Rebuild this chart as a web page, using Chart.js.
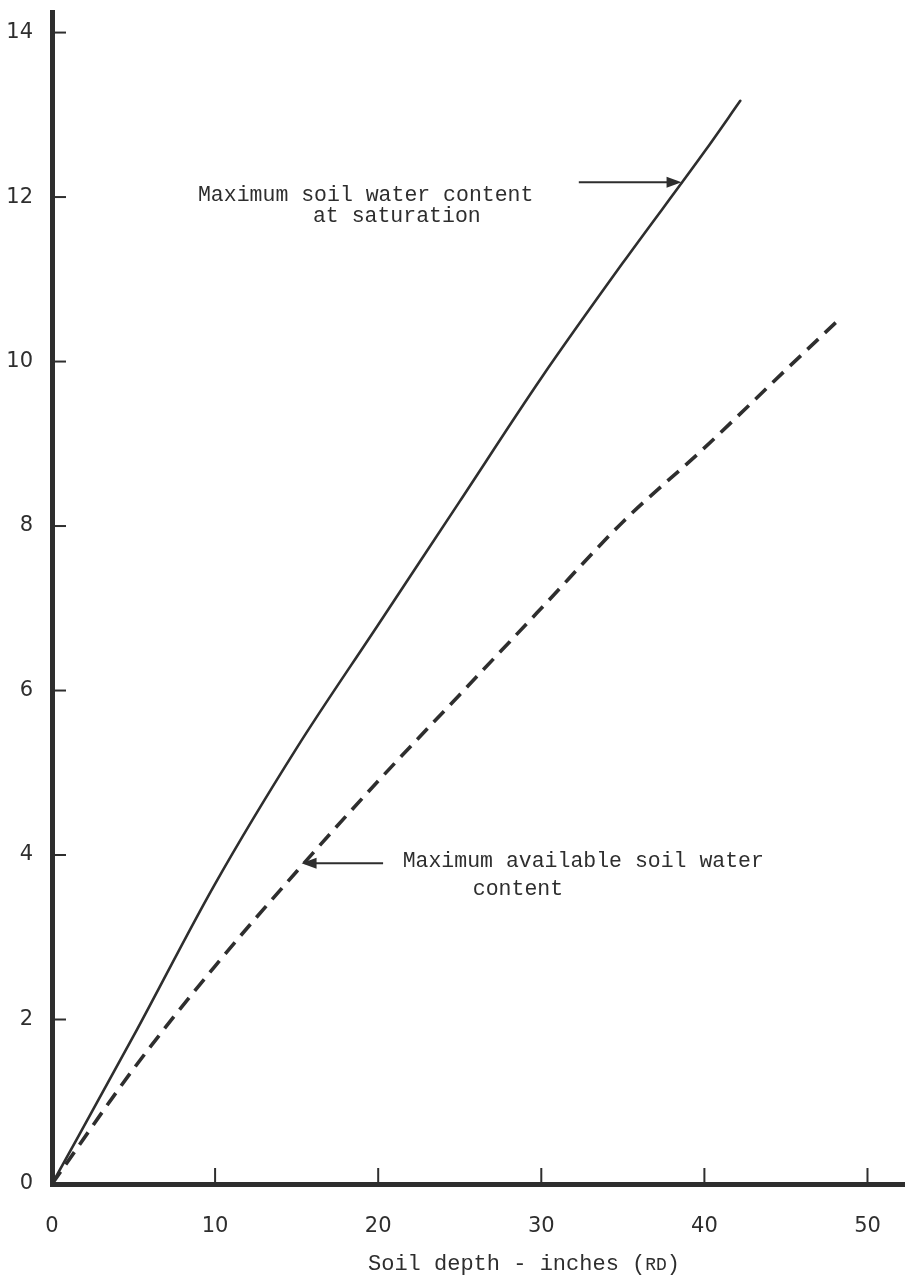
<!DOCTYPE html>
<html>
<head>
<meta charset="utf-8">
<script src="https://cdn.jsdelivr.net/npm/chart.js@4.4.0/dist/chart.umd.min.js"></script>
<style>
  html, body { margin: 0; padding: 0; background: #fff; }
  canvas { display: block; }
</style>
</head>
<body>
<canvas id="chart1" width="905" height="1278"></canvas>
<script>
// soil depth (inches) and water content
var depthSat = [0, 5, 10, 15, 20, 25, 30, 35, 40, 42.2];
var saturation = [0, 1.8, 3.65, 5.3, 6.8, 8.3, 9.8, 11.2, 12.55, 13.17];

var depthAvail = [0, 5, 10, 15, 20, 25, 30, 35, 40, 45, 48.3];
var available = [0, 1.4, 2.65, 3.8, 4.9, 5.95, 7.0, 8.05, 8.95, 9.9, 10.52];

var xTicks = [0, 10, 20, 30, 40, 50];
var yTicks = [0, 2, 4, 6, 8, 10, 12, 14];

const ink = '#2e2e2e';
const mono = '"Liberation Mono", "DejaVu Sans Mono", monospace';

function toPoints(xs, ys) {
  return xs.map(function (x, i) { return { x: x, y: ys[i] }; });
}

// labels with arrows, placed in data units
const notes = [
  { lines: ['Maximum soil water content', 'at saturation'], x: [8.95, 16.0], y: [12.02, 11.76],
    arrow: { y: 12.18, from: 32.3, to: 38.6 } },
  { lines: ['Maximum available soil water', 'content'], x: [21.5, 25.8], y: [3.92, 3.58],
    arrow: { y: 3.9, from: 20.3, to: 15.3 } }
];

const extras = {
  id: 'extras',
  afterDraw(chart) {
    const { ctx, scales } = chart;
    const xs = scales.x, ys = scales.y;
    ctx.save();
    ctx.strokeStyle = ink;
    ctx.fillStyle = ink;
    ctx.lineWidth = 2;
    // inward tick marks
    yTicks.forEach(function (v) {
      if (v === 0) return;
      const py = ys.getPixelForValue(v);
      ctx.beginPath();
      ctx.moveTo(xs.left, py);
      ctx.lineTo(xs.left + 14, py);
      ctx.stroke();
    });
    xTicks.forEach(function (v) {
      if (v === 0) return;
      const px = xs.getPixelForValue(v);
      ctx.beginPath();
      ctx.moveTo(px, ys.bottom);
      ctx.lineTo(px, ys.bottom - 16);
      ctx.stroke();
    });

    // notes
    ctx.font = '21.5px ' + mono;
    ctx.textBaseline = 'middle';
    ctx.textAlign = 'left';
    notes.forEach(function (n) {
      n.lines.forEach(function (t, i) {
        ctx.fillText(t, xs.getPixelForValue(n.x[i]), ys.getPixelForValue(n.y[i]));
      });
      const a = n.arrow;
      const py = ys.getPixelForValue(a.y);
      const x0 = xs.getPixelForValue(a.from), x1 = xs.getPixelForValue(a.to);
      const dir = x1 > x0 ? 1 : -1;
      ctx.lineWidth = 2;
      ctx.beginPath();
      ctx.moveTo(x0, py);
      ctx.lineTo(x1 - dir * 8, py);
      ctx.stroke();
      ctx.beginPath();
      ctx.moveTo(x1, py);
      ctx.lineTo(x1 - dir * 15, py - 5.5);
      ctx.lineTo(x1 - dir * 15, py + 5.5);
      ctx.closePath();
      ctx.fill();
    });

    // axis title, with small caps RD
    const tx = 368, ty = 1270;
    ctx.textBaseline = 'alphabetic';
    ctx.font = '22px ' + mono;
    const a = 'Soil depth - inches (';
    ctx.fillText(a, tx, ty);
    let w = ctx.measureText(a).width;
    ctx.font = '18px ' + mono;
    ctx.fillText('RD', tx + w, ty);
    w += ctx.measureText('RD').width;
    ctx.font = '22px ' + mono;
    ctx.fillText(')', tx + w, ty);
    ctx.restore();
  }
};

new Chart('chart1', {
  type: 'line',
  data: {
    datasets: [{
      label: 'Maximum soil water content at saturation',
      data: toPoints(depthSat, saturation),
      borderColor: ink,
      borderWidth: 2.6,
      borderCapStyle: 'round',
      pointRadius: 0,
      cubicInterpolationMode: 'monotone',
      fill: false
    },
    {
      label: 'Maximum available soil water content',
      data: toPoints(depthAvail, available),
      borderColor: ink,
      borderWidth: 3.6,
      borderDash: [15, 9],
      pointRadius: 0,
      cubicInterpolationMode: 'monotone',
      fill: false
    }]
  },
  options: {
    responsive: false,
    animation: false,
    layout: { padding: { top: 12, right: 0, left: 0, bottom: 0 } },
    plugins: {
      legend: { display: false },
      tooltip: { enabled: false }
    },
    scales: {
      x: {
        type: 'linear',
        min: 0,
        max: 52.3,
        afterFit(scale) {
          scale.height = 94;
          scale.paddingLeft = 0;
          scale.paddingRight = 0;
        },
        grid: { display: false, drawTicks: false },
        border: { display: true, width: 5, color: ink },
        ticks: {
          stepSize: 10,
          includeBounds: false,
          padding: 30,
          color: ink,
          font: { family: 'DejaVu Sans', size: 21 },
          maxRotation: 0
        }
      },
      y: {
        min: 0,
        max: 14.25,
        afterFit(scale) {
          scale.width = 52;
          scale.paddingTop = 0;
          scale.paddingBottom = 0;
        },
        grid: { display: false, drawTicks: false },
        border: { display: true, width: 5, color: ink },
        ticks: {
          stepSize: 2,
          includeBounds: false,
          padding: 19,
          color: ink,
          font: { family: 'DejaVu Sans', size: 21 }
        }
      }
    }
  },
  plugins: [extras]
});
</script>
</body>
</html>
